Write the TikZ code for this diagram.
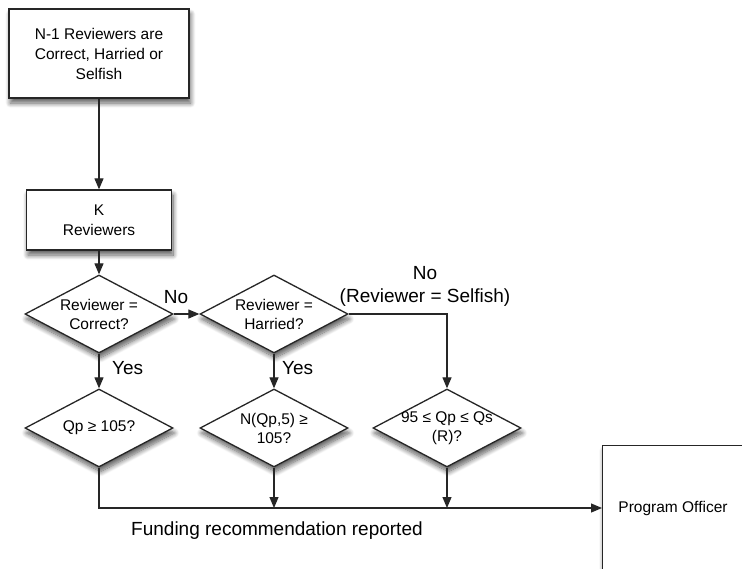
\documentclass[tikz,border=0pt]{standalone}
\usepackage{fontspec}
\setmainfont{Liberation Sans}
\usetikzlibrary{shapes.geometric,arrows.meta,shadows.blur}
\begin{document}
\begin{tikzpicture}[x=1pt,y=-1pt,
  shad/.style={blur shadow={shadow xshift=1.5pt, shadow yshift=-5pt, shadow blur steps=10, shadow blur radius=5pt, shadow opacity=65}},
  box/.style={draw=black!85, line width=1.3pt, fill=white, rectangle, inner sep=0pt, align=center,
              font=\fontsize{15.5}{20}\selectfont, shad},
  dia/.style={draw=black!85, line width=1.3pt, fill=white, diamond, inner sep=0pt,
              minimum width=148pt, minimum height=78pt, shad},
  dtxt/.style={align=center, inner sep=0pt, font=\fontsize{15.5}{19}\selectfont},
  lbl/.style={inner sep=0pt, font=\fontsize{19}{23}\selectfont, align=center},
  arr/.style={draw=black!85, line width=1.2pt, -{Triangle[length=11pt,width=9pt]}},
  ln/.style={draw=black!85, line width=1.2pt}
]
\useasboundingbox (0,0) rectangle (742,568);
\clip (0,0) rectangle (742,568);

\node[box, minimum width=180pt, minimum height=89pt] (top) at (99,53.5)
  {N-1 Reviewers are\\Correct, Harried or\\Selfish};
\node[box, minimum width=145pt, minimum height=60pt] (k) at (99,220)
  {K\\Reviewers};

\node[dia] (d1) at (99,314) {};
\node[dtxt] (d1t) at (d1) {Reviewer =\\Correct?};
\node[dia] (d2) at (274,314) {};
\node[dtxt] (d2t) at (d2) {Reviewer =\\Harried?};

\node[dia] (d1b) at (99,428) {};
\node[dtxt] (d1bt) at (d1b) {Qp ≥ 105?};
\node[dia] (d2b) at (274,428) {};
\node[dtxt] (d2bt) at (d2b) {N(Qp,5) ≥\\105?};
\node[dia] (d3) at (447,428) {};
\node[dtxt] (d3t) at (d3) {95 ≤ Qp ≤ Qs\\(R)?};

\node[box, minimum width=160pt, minimum height=150pt, anchor=north west] (po) at (602,445) {};
\node[dtxt] (pot) at (673,508) {Program Officer};

\coordinate (bus) at (99,508);

\draw[arr] (top.south) -- (k.north);
\draw[arr] (k.south) -- (d1.north);
\draw[arr] (d1.east) -- (d2.west);
\draw[arr] (d1.south) -- (d1b.north);
\draw[arr] (d2.south) -- (d2b.north);
\draw[arr] (d2.east) -| (d3.north);
\draw[arr] (d1b.south) -- (bus) -- (po.west |- pot);
\draw[arr] (d2b.south) -- (d2b.south |- bus);
\draw[arr] (d3.south) -- (d3.south |- bus);

\node[lbl] (no1) at (176,297) {No};
\node[lbl, anchor=west] (yes1) at (112,368) {Yes};
\node[lbl, anchor=west] (yes2) at (282,368) {Yes};
\node[lbl] (no2) at (425,286) {No\\(Reviewer = Selfish)};
\node[lbl, anchor=west] (fund) at (131,531) {Funding recommendation reported};
\end{tikzpicture}
\end{document}
